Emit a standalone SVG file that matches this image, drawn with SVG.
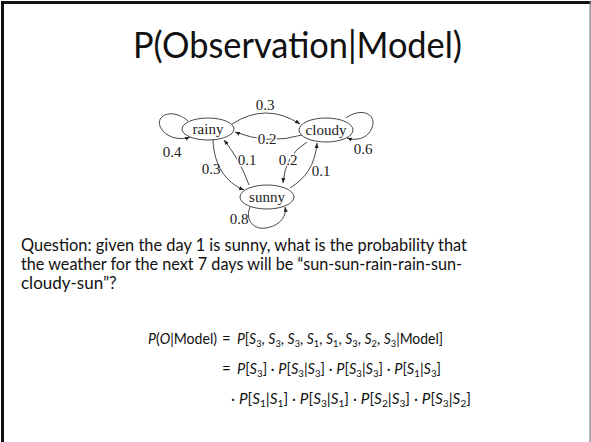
<svg xmlns="http://www.w3.org/2000/svg" width="591" height="442" viewBox="0 0 591 442">
<style>
.node ellipse{fill:#fff;stroke:#333;stroke-width:0.9}
.nt{font-family:"Liberation Serif",serif;font-size:15px;text-anchor:middle;fill:#222}
.lbl{font-family:"Liberation Serif",serif;font-size:15px;text-anchor:middle;fill:#222}
.halo{paint-order:stroke;stroke:#fff;stroke-width:3px}
.edge{fill:none;stroke:#333;stroke-width:0.9;marker-end:url(#ah)}
.title{font-family:Lato,"Open Sans",sans-serif;font-size:36px;fill:#111}
.q{font-family:Lato,"Open Sans",sans-serif;font-size:17px;fill:#111}
.f{font-family:Lato,"Noto Sans",sans-serif;font-size:15px;fill:#111}
.i{font-style:italic}
.sb{font-size:10px;baseline-shift:-3px}
</style>
<defs>
<marker id="ah" viewBox="0 0 10 10" refX="10" refY="5" markerWidth="5" markerHeight="5" markerUnits="userSpaceOnUse" orient="auto"><path d="M0,1 L10,5 L0,9 z" fill="#222"/></marker>
</defs>
<rect width="591" height="442" fill="#fff"/>
<g id="border">
<rect x="1" y="1" width="3" height="441" fill="#111"/>
<rect x="1" y="1" width="590" height="3" fill="#111"/>
<rect x="589.5" y="1" width="1.2" height="441" fill="#777"/>
</g>
<g id="title"><text class="title" x="133" y="58" textLength="329" lengthAdjust="spacingAndGlyphs">P(Observation|Model)</text></g>
<g id="connectors">
<path class="edge" d="M232,124 Q266,102 300,124"/>
<path class="edge" d="M302,135 Q268,145 235,132"/>
<path class="edge" d="M188,121 C171,106 151,117 163,131 C170,139 182,140 190,137"/>
<path class="edge" d="M346,118 C362,106 379,115 371,130 C366,139 356,141 347,138"/>
<path class="edge" d="M213,140 C214,165 225,182 244,190"/>
<path class="edge" d="M249,185 Q240,160 224,140"/>
<path class="edge" d="M307,142 Q285,155 283,183"/>
<path class="edge" d="M290,188 C306,178 315,165 317,143"/>
<path class="edge" d="M250,207 C244,222 256,230 266,228 C278,226 287,218 285,207"/>
</g>
<g id="rainy" class="node"><ellipse cx="208" cy="129" rx="26" ry="11"/><text class="nt" x="208" y="134">rainy</text></g>
<g id="cloudy" class="node"><ellipse cx="326" cy="130" rx="27" ry="12"/><text class="nt" x="326" y="135">cloudy</text></g>
<g id="sunny" class="node"><ellipse cx="267" cy="197" rx="27" ry="12"/><text class="nt" x="267" y="202">sunny</text></g>
<g id="labels">
<text class="lbl" x="265" y="110">0.3</text>
<text class="lbl halo" x="267" y="144">0.2</text>
<text class="lbl" x="172" y="157">0.4</text>
<text class="lbl" x="363" y="154">0.6</text>
<text class="lbl" x="211" y="174">0.3</text>
<text class="lbl halo" x="247" y="165">0.1</text>
<text class="lbl halo" x="288" y="165">0.2</text>
<text class="lbl" x="321" y="176">0.1</text>
<text class="lbl" x="239" y="224">0.8</text>
</g>
<g id="question">
<text class="q" x="21" y="251" textLength="446" lengthAdjust="spacingAndGlyphs">Question: given the day 1 is sunny, what is the probability that</text>
<text class="q" x="21" y="270" textLength="441" lengthAdjust="spacingAndGlyphs">the weather for the next 7 days will be “sun-sun-rain-rain-sun-</text>
<text class="q" x="21" y="289">cloudy-sun”?</text>
</g>
<g id="formula">
<text class="f" x="148" y="344" textLength="69" lengthAdjust="spacingAndGlyphs"><tspan class="i">P</tspan>(<tspan class="i">O</tspan>|Model)</text>
<text class="f" x="222" y="344">=</text>
<text class="f" x="237" y="344" textLength="206" lengthAdjust="spacingAndGlyphs"><tspan class="i">P</tspan>[<tspan class="i">S</tspan><tspan class="sb">3</tspan>, <tspan class="i">S</tspan><tspan class="sb">3</tspan>, <tspan class="i">S</tspan><tspan class="sb">3</tspan>, <tspan class="i">S</tspan><tspan class="sb">1</tspan>, <tspan class="i">S</tspan><tspan class="sb">1</tspan>, <tspan class="i">S</tspan><tspan class="sb">3</tspan>, <tspan class="i">S</tspan><tspan class="sb">2</tspan>, <tspan class="i">S</tspan><tspan class="sb">3</tspan>|Model]</text>
<text class="f" x="222" y="374">=</text>
<text class="f" x="237" y="374" textLength="204" lengthAdjust="spacingAndGlyphs"><tspan class="i">P</tspan>[<tspan class="i">S</tspan><tspan class="sb">3</tspan>] · <tspan class="i">P</tspan>[<tspan class="i">S</tspan><tspan class="sb">3</tspan>|<tspan class="i">S</tspan><tspan class="sb">3</tspan>] · <tspan class="i">P</tspan>[<tspan class="i">S</tspan><tspan class="sb">3</tspan>|<tspan class="i">S</tspan><tspan class="sb">3</tspan>] · <tspan class="i">P</tspan>[<tspan class="i">S</tspan><tspan class="sb">1</tspan>|<tspan class="i">S</tspan><tspan class="sb">3</tspan>]</text>
<text class="f" x="231" y="404" textLength="240" lengthAdjust="spacingAndGlyphs">· <tspan class="i">P</tspan>[<tspan class="i">S</tspan><tspan class="sb">1</tspan>|<tspan class="i">S</tspan><tspan class="sb">1</tspan>] · <tspan class="i">P</tspan>[<tspan class="i">S</tspan><tspan class="sb">3</tspan>|<tspan class="i">S</tspan><tspan class="sb">1</tspan>] · <tspan class="i">P</tspan>[<tspan class="i">S</tspan><tspan class="sb">2</tspan>|<tspan class="i">S</tspan><tspan class="sb">3</tspan>] · <tspan class="i">P</tspan>[<tspan class="i">S</tspan><tspan class="sb">3</tspan>|<tspan class="i">S</tspan><tspan class="sb">2</tspan>]</text>
</g>
</svg>
